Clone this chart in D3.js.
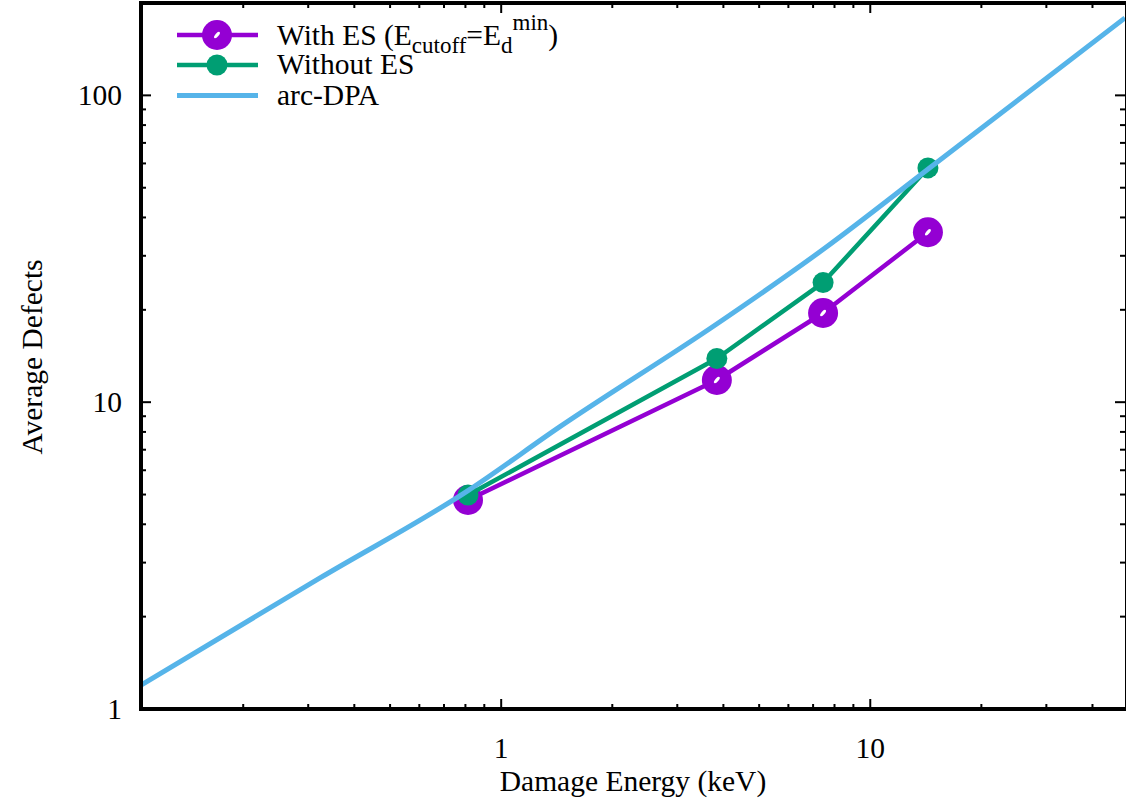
<!DOCTYPE html>
<html>
<head>
<meta charset="utf-8">
<script src="https://cdn.jsdelivr.net/npm/d3@7"></script>
<style>
  html, body { margin: 0; padding: 0; background: #fff; }
  svg { display: block; }
  text { font-family: "Liberation Serif", "DejaVu Serif", serif; fill: #000; }
</style>
</head>
<body>
<svg id="chart" width="1126" height="804"></svg>
<script>
// ---------- data ----------
const withES_x = [0.813, 3.84, 7.45, 14.33];
const withES_y = [4.80, 11.81, 19.53, 35.8];

const withoutES_x = [0.813, 3.84, 7.45, 14.33];
const withoutES_y = [4.98, 13.88, 24.54, 58.0];

const arcDPA_x = [0.1057, 0.323, 0.813, 1.443, 3.837, 7.54, 14.24, 49];
const arcDPA_y = [1.197, 2.674, 5.15, 8.32, 17.98, 31.8, 57.1, 178.8];

const xDomain = [0.1057, 49];
const yDomain = [1, 200];
const xMajorTicks = [1, 10];
const xTickLabels = ["1", "10"];
const yMajorTicks = [1, 10, 100];
const yTickLabels = ["1", "10", "100"];
const xMinorTicks = [0.2,0.3,0.4,0.5,0.6,0.7,0.8,0.9,2,3,4,5,6,7,8,9,20,30,40];
const yMinorTicks = [2,3,4,5,6,7,8,9,20,30,40,50,60,70,80,90];

const legendLabels = ["With ES", "Without ES", "arc-DPA"];
const colors = { purple: "#9400d3", green: "#009e73", blue: "#56b4e9" };

// ---------- layout ----------
const L = 141, R = 1125, T = 3, B = 709;
const FS = 29.5;
const svg = d3.select("#chart");
const x = d3.scaleLog().domain(xDomain).range([L, R]);
const y = d3.scaleLog().domain(yDomain).range([B, T]);

svg.append("defs").append("clipPath").attr("id", "clip")
  .append("rect").attr("x", L).attr("y", T).attr("width", R - L).attr("height", B - T);

// ---------- ticks (inward on all four sides) ----------
const tg = svg.append("g").attr("stroke", "#000").attr("stroke-width", 2);
const majLen = 10, minLen = 5;
xMajorTicks.forEach(v => {
  tg.append("line").attr("x1", x(v)).attr("x2", x(v)).attr("y1", B).attr("y2", B - majLen);
  tg.append("line").attr("x1", x(v)).attr("x2", x(v)).attr("y1", T).attr("y2", T + majLen);
});
xMinorTicks.forEach(v => {
  tg.append("line").attr("x1", x(v)).attr("x2", x(v)).attr("y1", B).attr("y2", B - minLen);
  tg.append("line").attr("x1", x(v)).attr("x2", x(v)).attr("y1", T).attr("y2", T + minLen);
});
yMajorTicks.forEach(v => {
  tg.append("line").attr("y1", y(v)).attr("y2", y(v)).attr("x1", L).attr("x2", L + majLen);
  tg.append("line").attr("y1", y(v)).attr("y2", y(v)).attr("x1", R).attr("x2", R - majLen);
});
yMinorTicks.forEach(v => {
  tg.append("line").attr("y1", y(v)).attr("y2", y(v)).attr("x1", L).attr("x2", L + minLen);
  tg.append("line").attr("y1", y(v)).attr("y2", y(v)).attr("x1", R).attr("x2", R - minLen);
});

// tick labels
xMajorTicks.forEach((v, i) => {
  svg.append("text").attr("x", x(v)).attr("y", 758).attr("text-anchor", "middle")
    .attr("font-size", FS).text(xTickLabels[i]);
});
yMajorTicks.forEach((v, i) => {
  svg.append("text").attr("x", 122).attr("y", y(v) + 10).attr("text-anchor", "end")
    .attr("font-size", FS).text(yTickLabels[i]);
});

// axis titles
svg.append("text").attr("x", 633).attr("y", 791).attr("text-anchor", "middle")
  .attr("font-size", FS).text("Damage Energy (keV)");
svg.append("text").attr("transform", "translate(42,357) rotate(-90)").attr("text-anchor", "middle")
  .attr("font-size", FS).text("Average Defects");

// ---------- series ----------
const plot = svg.append("g").attr("clip-path", "url(#clip)");
const line = d3.line().x(d => x(d[0])).y(d => y(d[1]));

const pWith = withES_x.map((v, i) => [v, withES_y[i]]);
const pWithout = withoutES_x.map((v, i) => [v, withoutES_y[i]]);
const pArc = arcDPA_x.map((v, i) => [v, arcDPA_y[i]]);

function purpleMarker(g, cx, cy) {
  g.append("circle").attr("cx", cx).attr("cy", cy).attr("r", 15).attr("fill", colors.purple);
  g.append("ellipse").attr("cx", cx).attr("cy", cy).attr("rx", 4).attr("ry", 1.7)
    .attr("fill", "#fff").attr("transform", `rotate(-50,${cx},${cy})`);
}

plot.append("path").datum(pWith).attr("d", line).attr("fill", "none")
  .attr("stroke", colors.purple).attr("stroke-width", 4.5).attr("stroke-linejoin", "round");
pWith.forEach(d => purpleMarker(plot, x(d[0]), y(d[1])));

plot.append("path").datum(pWithout).attr("d", line).attr("fill", "none")
  .attr("stroke", colors.green).attr("stroke-width", 4.5).attr("stroke-linejoin", "round");
pWithout.forEach(d => plot.append("circle").attr("cx", x(d[0])).attr("cy", y(d[1]))
  .attr("r", 10.5).attr("fill", colors.green));

plot.append("path").datum(pArc).attr("d", line.curve(d3.curveMonotoneX)).attr("fill", "none")
  .attr("stroke", colors.blue).attr("stroke-width", 5).attr("stroke-linejoin", "round");

// ---------- frame ----------
svg.append("rect").attr("x", L).attr("y", T).attr("width", R - L + 2).attr("height", B - T)
  .attr("fill", "none").attr("stroke", "#000").attr("stroke-width", 4);

// ---------- legend ----------
const lg = svg.append("g");
const rows = [35, 65, 95.5];
const lx1 = 177, lx2 = 258, lmid = 217, tx = 277;
lg.append("line").attr("x1", lx1).attr("x2", lx2).attr("y1", rows[0]).attr("y2", rows[0])
  .attr("stroke", colors.purple).attr("stroke-width", 4.5);
purpleMarker(lg, lmid, rows[0]);
const t1 = lg.append("text").attr("x", tx).attr("y", rows[0] + 10).attr("font-size", FS);
t1.append("tspan").text(legendLabels[0] + " (E");
t1.append("tspan").attr("font-size", 23).attr("dy", 8).text("cutoff");
t1.append("tspan").attr("dy", -8).text("=E");
t1.append("tspan").attr("font-size", 23).attr("dy", 8).text("d");
t1.append("tspan").attr("font-size", 23).attr("dy", -23).text("min");
t1.append("tspan").attr("dy", 15).text(")");

lg.append("line").attr("x1", lx1).attr("x2", lx2).attr("y1", rows[1]).attr("y2", rows[1])
  .attr("stroke", colors.green).attr("stroke-width", 4.5);
lg.append("circle").attr("cx", lmid).attr("cy", rows[1]).attr("r", 10.5).attr("fill", colors.green);
lg.append("text").attr("x", tx).attr("y", rows[1] + 9).attr("font-size", FS).text(legendLabels[1]);

lg.append("line").attr("x1", lx1).attr("x2", lx2).attr("y1", rows[2]).attr("y2", rows[2])
  .attr("stroke", colors.blue).attr("stroke-width", 5);
lg.append("text").attr("x", tx).attr("y", rows[2] + 9).attr("font-size", FS).text(legendLabels[2]);
</script>
</body>
</html>
